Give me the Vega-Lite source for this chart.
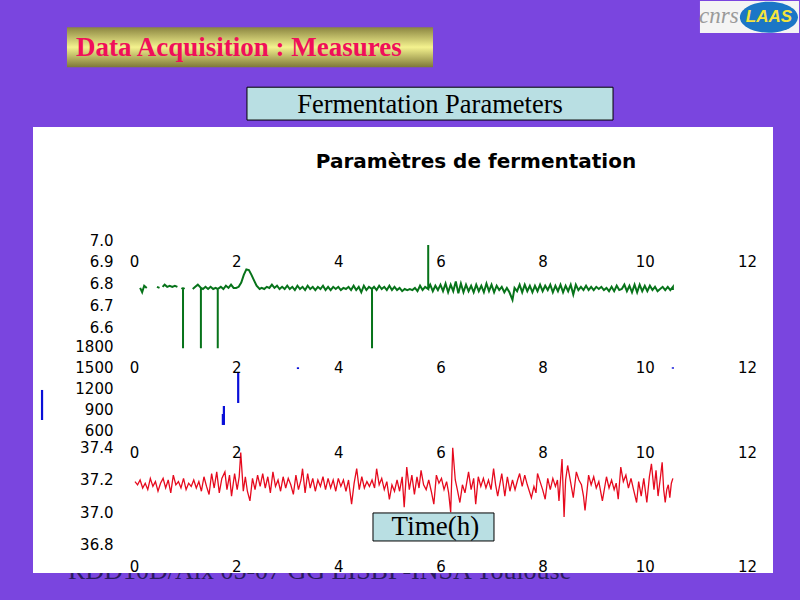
{"$schema":"https://vega.github.io/schema/vega-lite/v6.json","width":740,"height":446,"padding":{"left":33,"top":127,"right":27,"bottom":27},"autosize":{"type":"none"},"background":"#7a45df","view":{"stroke":null,"fill":null},
"title":{"text":"Paramètres de fermentation","font":"DejaVu Sans","fontWeight":"bold","fontSize":20,"color":"#000000","anchor":"middle","dx":73,"offset":-171},
"resolve":{"scale":{"y":"independent"},"axis":{"x":"independent","y":"independent"}},
"layer":[
{"data":{"values":[{"label":"RDD10D/Aix 05-07 GG LISBP-INSA Toulouse"}]},"mark":{"type":"text","align":"left","baseline":"alphabetic","font":"Liberation Serif","fontSize":26,"color":"#2a1a60","clip":false},"encoding":{"x":{"datum":-1.292,"type":"quantitative","scale":{"domain":[-1.977,12.51],"nice":false},"axis":null},"y":{"datum":36.585,"type":"quantitative","scale":{"domain":[36.622,39.393],"nice":false,"zero":false},"axis":null},"text":{"field":"label"}}},
{"data":{"values":[{"panel":"plot"}]},"mark":{"type":"rect","fill":"#ffffff"},"encoding":{"x":{"datum":-1.977,"type":"quantitative","scale":{"domain":[-1.977,12.51],"nice":false},"axis":null},"x2":{"datum":12.51},"y":{"datum":5.469,"type":"quantitative","scale":{"domain":[5.469,7.52],"nice":false,"zero":false},"axis":null},"y2":{"datum":7.52}}},
{"data":{"values":[{"h":0.12,"p":6.78},{"h":0.16,"p":6.76},{"h":0.2,"p":6.79},{"h":0.25,"p":6.78},{"h":0.27,"p":null},{"h":0.45,"p":6.785},{"h":0.5,"p":6.78},{"h":0.52,"p":null},{"h":0.56,"p":6.785},{"h":0.6,"p":6.795},{"h":0.65,"p":6.785},{"h":0.7,"p":6.79},{"h":0.75,"p":6.785},{"h":0.8,"p":6.79},{"h":0.85,"p":6.785},{"h":0.87,"p":null},{"h":0.93,"p":6.78},{"h":0.96,"p":6.775},{"h":0.96,"p":6.503},{"h":0.96,"p":6.775},{"h":0.99,"p":6.78},{"h":1.01,"p":null},{"h":1.15,"p":6.775},{"h":1.2,"p":6.785},{"h":1.25,"p":6.795},{"h":1.31,"p":6.78},{"h":1.31,"p":6.503},{"h":1.31,"p":6.78},{"h":1.35,"p":6.775},{"h":1.4,"p":6.785},{"h":1.45,"p":6.775},{"h":1.5,"p":6.785},{"h":1.55,"p":6.775},{"h":1.6,"p":6.78},{"h":1.64,"p":6.775},{"h":1.64,"p":6.503},{"h":1.64,"p":6.775},{"h":1.7,"p":6.785},{"h":1.75,"p":6.775},{"h":1.8,"p":6.79},{"h":1.85,"p":6.78},{"h":1.9,"p":6.795},{"h":1.95,"p":6.78},{"h":2.0,"p":6.78},{"h":2.05,"p":6.785},{"h":2.1,"p":6.805},{"h":2.15,"p":6.84},{"h":2.2,"p":6.865},{"h":2.25,"p":6.862},{"h":2.3,"p":6.84},{"h":2.35,"p":6.815},{"h":2.4,"p":6.79},{"h":2.46,"p":6.775},{"h":2.5,"p":6.78},{"h":2.55,"p":6.775},{"h":2.6,"p":6.785},{"h":2.65,"p":6.78},{"h":2.7,"p":6.795},{"h":2.75,"p":6.78},{"h":2.8,"p":6.79},{"h":2.85,"p":6.775},{"h":2.9,"p":6.785},{"h":2.95,"p":6.775},{"h":3.0,"p":6.79},{"h":3.05,"p":6.775},{"h":3.1,"p":6.785},{"h":3.15,"p":6.77},{"h":3.2,"p":6.79},{"h":3.25,"p":6.775},{"h":3.3,"p":6.785},{"h":3.35,"p":6.77},{"h":3.4,"p":6.79},{"h":3.45,"p":6.775},{"h":3.5,"p":6.785},{"h":3.55,"p":6.77},{"h":3.6,"p":6.785},{"h":3.65,"p":6.775},{"h":3.7,"p":6.79},{"h":3.75,"p":6.77},{"h":3.8,"p":6.785},{"h":3.85,"p":6.77},{"h":3.9,"p":6.785},{"h":3.95,"p":6.775},{"h":4.0,"p":6.785},{"h":4.05,"p":6.77},{"h":4.1,"p":6.78},{"h":4.15,"p":6.775},{"h":4.2,"p":6.785},{"h":4.25,"p":6.77},{"h":4.3,"p":6.79},{"h":4.35,"p":6.77},{"h":4.4,"p":6.785},{"h":4.45,"p":6.76},{"h":4.5,"p":6.79},{"h":4.55,"p":6.77},{"h":4.6,"p":6.785},{"h":4.66,"p":6.775},{"h":4.66,"p":6.503},{"h":4.66,"p":6.775},{"h":4.7,"p":6.785},{"h":4.75,"p":6.77},{"h":4.8,"p":6.79},{"h":4.85,"p":6.775},{"h":4.9,"p":6.785},{"h":4.95,"p":6.77},{"h":5.0,"p":6.79},{"h":5.05,"p":6.77},{"h":5.1,"p":6.785},{"h":5.15,"p":6.77},{"h":5.2,"p":6.78},{"h":5.25,"p":6.765},{"h":5.3,"p":6.775},{"h":5.35,"p":6.77},{"h":5.4,"p":6.775},{"h":5.45,"p":6.77},{"h":5.5,"p":6.78},{"h":5.55,"p":6.765},{"h":5.6,"p":6.79},{"h":5.65,"p":6.77},{"h":5.7,"p":6.785},{"h":5.76,"p":6.775},{"h":5.76,"p":6.977},{"h":5.76,"p":6.775},{"h":5.8,"p":6.795},{"h":5.85,"p":6.765},{"h":5.9,"p":6.79},{"h":5.95,"p":6.77},{"h":6.0,"p":6.795},{"h":6.05,"p":6.765},{"h":6.1,"p":6.8},{"h":6.15,"p":6.76},{"h":6.2,"p":6.795},{"h":6.25,"p":6.765},{"h":6.3,"p":6.81},{"h":6.35,"p":6.755},{"h":6.4,"p":6.8},{"h":6.45,"p":6.76},{"h":6.5,"p":6.795},{"h":6.55,"p":6.765},{"h":6.6,"p":6.79},{"h":6.65,"p":6.76},{"h":6.7,"p":6.795},{"h":6.75,"p":6.765},{"h":6.8,"p":6.79},{"h":6.85,"p":6.76},{"h":6.9,"p":6.8},{"h":6.95,"p":6.765},{"h":7.0,"p":6.795},{"h":7.05,"p":6.76},{"h":7.1,"p":6.79},{"h":7.15,"p":6.77},{"h":7.2,"p":6.785},{"h":7.25,"p":6.76},{"h":7.3,"p":6.78},{"h":7.35,"p":6.76},{"h":7.41,"p":6.725},{"h":7.45,"p":6.78},{"h":7.5,"p":6.765},{"h":7.55,"p":6.795},{"h":7.6,"p":6.76},{"h":7.65,"p":6.795},{"h":7.7,"p":6.765},{"h":7.75,"p":6.79},{"h":7.8,"p":6.76},{"h":7.85,"p":6.79},{"h":7.9,"p":6.765},{"h":7.95,"p":6.795},{"h":8.0,"p":6.765},{"h":8.05,"p":6.79},{"h":8.1,"p":6.77},{"h":8.15,"p":6.795},{"h":8.2,"p":6.76},{"h":8.25,"p":6.79},{"h":8.3,"p":6.765},{"h":8.35,"p":6.795},{"h":8.4,"p":6.76},{"h":8.45,"p":6.79},{"h":8.5,"p":6.765},{"h":8.55,"p":6.795},{"h":8.6,"p":6.75},{"h":8.65,"p":6.795},{"h":8.7,"p":6.77},{"h":8.75,"p":6.785},{"h":8.8,"p":6.77},{"h":8.85,"p":6.79},{"h":8.9,"p":6.77},{"h":8.95,"p":6.785},{"h":9.0,"p":6.77},{"h":9.05,"p":6.785},{"h":9.1,"p":6.775},{"h":9.15,"p":6.785},{"h":9.2,"p":6.77},{"h":9.25,"p":6.78},{"h":9.3,"p":6.765},{"h":9.35,"p":6.785},{"h":9.4,"p":6.765},{"h":9.45,"p":6.79},{"h":9.5,"p":6.77},{"h":9.55,"p":6.775},{"h":9.6,"p":6.795},{"h":9.65,"p":6.765},{"h":9.7,"p":6.79},{"h":9.75,"p":6.76},{"h":9.8,"p":6.795},{"h":9.85,"p":6.76},{"h":9.9,"p":6.795},{"h":9.95,"p":6.765},{"h":10.0,"p":6.79},{"h":10.05,"p":6.765},{"h":10.1,"p":6.79},{"h":10.15,"p":6.77},{"h":10.2,"p":6.785},{"h":10.25,"p":6.765},{"h":10.3,"p":6.775},{"h":10.35,"p":6.785},{"h":10.4,"p":6.77},{"h":10.45,"p":6.785},{"h":10.5,"p":6.77},{"h":10.55,"p":6.785},{"h":10.55,"p":6.77}]},"mark":{"type":"line","color":"#07731a","strokeWidth":2,"interpolate":"linear"},"encoding":{"order":null,"x":{"field":"h","type":"quantitative","scale":{"domain":[-1.977,12.51],"nice":false},"axis":{"title":null,"orient":"bottom","offset":-312,"values":[0,2,4,6,8,10,12],"format":"d","domain":false,"ticks":false,"grid":false,"labelPadding":0,"labelBaseline":"middle","labelFont":"DejaVu Sans","labelFontSize":15,"labelColor":"#000000","zindex":1}},"y":{"field":"p","type":"quantitative","scale":{"domain":[5.469,7.52],"nice":false,"zero":false},"axis":{"title":null,"orient":"left","offset":-80,"values":[6.6,6.7,6.8,6.9,7.0],"format":".1f","domain":false,"ticks":false,"grid":false,"labelPadding":0,"labelFont":"DejaVu Sans","labelFontSize":15,"labelColor":"#000000","zindex":1}}}},
{"data":{"values":[{"h":-1.8,"lo":757,"hi":1186},{"h":1.76,"lo":686,"hi":957},{"h":1.74,"lo":686,"hi":843},{"h":2.04,"lo":1000,"hi":1443},{"h":3.21,"lo":1485,"hi":1510},{"h":10.55,"lo":1490,"hi":1510}]},"mark":{"type":"rule","color":"#0a10d8","strokeWidth":2.2},"encoding":{"x":{"field":"h","type":"quantitative","scale":{"domain":[-1.977,12.51],"nice":false},"axis":{"title":null,"orient":"bottom","offset":-206,"values":[0,2,4,6,8,10,12],"format":"d","domain":false,"ticks":false,"grid":false,"labelPadding":0,"labelBaseline":"middle","labelFont":"DejaVu Sans","labelFontSize":15,"labelColor":"#000000","zindex":1}},"y":{"field":"lo","type":"quantitative","scale":{"domain":[-1429,4943],"nice":false,"zero":false},"axis":{"title":null,"orient":"left","offset":-80,"values":[600,900,1200,1500,1800],"format":"d","domain":false,"ticks":false,"grid":false,"labelPadding":0,"labelFont":"DejaVu Sans","labelFontSize":15,"labelColor":"#000000","zindex":1}},"y2":{"field":"hi"}}},
{"data":{"values":[{"h":0.02,"t":37.19},{"h":0.07,"t":37.17},{"h":0.12,"t":37.2},{"h":0.17,"t":37.15},{"h":0.22,"t":37.18},{"h":0.27,"t":37.14},{"h":0.32,"t":37.21},{"h":0.37,"t":37.16},{"h":0.42,"t":37.19},{"h":0.47,"t":37.13},{"h":0.52,"t":37.18},{"h":0.57,"t":37.21},{"h":0.62,"t":37.15},{"h":0.67,"t":37.2},{"h":0.72,"t":37.12},{"h":0.77,"t":37.23},{"h":0.82,"t":37.17},{"h":0.87,"t":37.19},{"h":0.92,"t":37.15},{"h":0.97,"t":37.21},{"h":1.02,"t":37.14},{"h":1.07,"t":37.18},{"h":1.12,"t":37.16},{"h":1.17,"t":37.2},{"h":1.22,"t":37.15},{"h":1.27,"t":37.19},{"h":1.32,"t":37.13},{"h":1.37,"t":37.22},{"h":1.42,"t":37.16},{"h":1.47,"t":37.11},{"h":1.52,"t":37.24},{"h":1.57,"t":37.15},{"h":1.62,"t":37.25},{"h":1.67,"t":37.12},{"h":1.72,"t":37.21},{"h":1.78,"t":37.25},{"h":1.82,"t":37.14},{"h":1.87,"t":37.23},{"h":1.91,"t":37.1},{"h":1.97,"t":37.24},{"h":2.02,"t":37.14},{"h":2.06,"t":37.22},{"h":2.09,"t":37.37},{"h":2.14,"t":37.13},{"h":2.18,"t":37.22},{"h":2.22,"t":37.13},{"h":2.27,"t":37.07},{"h":2.32,"t":37.21},{"h":2.37,"t":37.14},{"h":2.42,"t":37.23},{"h":2.47,"t":37.16},{"h":2.52,"t":37.24},{"h":2.57,"t":37.15},{"h":2.62,"t":37.22},{"h":2.67,"t":37.12},{"h":2.72,"t":37.25},{"h":2.77,"t":37.16},{"h":2.82,"t":37.2},{"h":2.87,"t":37.13},{"h":2.92,"t":37.22},{"h":2.97,"t":37.15},{"h":3.02,"t":37.21},{"h":3.07,"t":37.17},{"h":3.12,"t":37.11},{"h":3.17,"t":37.23},{"h":3.22,"t":37.14},{"h":3.27,"t":37.2},{"h":3.3,"t":37.27},{"h":3.35,"t":37.12},{"h":3.4,"t":37.24},{"h":3.45,"t":37.15},{"h":3.5,"t":37.21},{"h":3.55,"t":37.13},{"h":3.6,"t":37.2},{"h":3.65,"t":37.16},{"h":3.7,"t":37.22},{"h":3.75,"t":37.14},{"h":3.8,"t":37.21},{"h":3.85,"t":37.15},{"h":3.9,"t":37.2},{"h":3.95,"t":37.13},{"h":4.0,"t":37.21},{"h":4.05,"t":37.16},{"h":4.1,"t":37.2},{"h":4.15,"t":37.13},{"h":4.2,"t":37.2},{"h":4.26,"t":37.05},{"h":4.31,"t":37.18},{"h":4.36,"t":37.27},{"h":4.41,"t":37.14},{"h":4.46,"t":37.22},{"h":4.51,"t":37.15},{"h":4.56,"t":37.19},{"h":4.61,"t":37.16},{"h":4.66,"t":37.2},{"h":4.71,"t":37.15},{"h":4.75,"t":37.27},{"h":4.8,"t":37.17},{"h":4.85,"t":37.21},{"h":4.9,"t":37.14},{"h":4.95,"t":37.19},{"h":5.0,"t":37.08},{"h":5.05,"t":37.17},{"h":5.1,"t":37.13},{"h":5.15,"t":37.2},{"h":5.2,"t":37.13},{"h":5.25,"t":37.22},{"h":5.29,"t":37.03},{"h":5.34,"t":37.28},{"h":5.39,"t":37.14},{"h":5.44,"t":37.23},{"h":5.49,"t":37.11},{"h":5.54,"t":37.22},{"h":5.58,"t":37.15},{"h":5.62,"t":37.26},{"h":5.67,"t":37.17},{"h":5.72,"t":37.14},{"h":5.77,"t":37.2},{"h":5.82,"t":37.13},{"h":5.87,"t":37.05},{"h":5.92,"t":37.23},{"h":5.97,"t":37.18},{"h":6.02,"t":37.21},{"h":6.07,"t":37.14},{"h":6.12,"t":37.19},{"h":6.16,"t":37.12},{"h":6.2,"t":37.0},{"h":6.24,"t":37.4},{"h":6.29,"t":37.2},{"h":6.33,"t":37.14},{"h":6.38,"t":37.06},{"h":6.43,"t":37.17},{"h":6.48,"t":37.12},{"h":6.55,"t":37.25},{"h":6.6,"t":37.14},{"h":6.65,"t":37.21},{"h":6.69,"t":37.05},{"h":6.74,"t":37.22},{"h":6.79,"t":37.16},{"h":6.84,"t":37.21},{"h":6.89,"t":37.15},{"h":6.94,"t":37.2},{"h":6.99,"t":37.14},{"h":7.04,"t":37.27},{"h":7.08,"t":37.17},{"h":7.12,"t":37.1},{"h":7.2,"t":37.24},{"h":7.26,"t":37.1},{"h":7.31,"t":37.22},{"h":7.36,"t":37.13},{"h":7.41,"t":37.2},{"h":7.46,"t":37.14},{"h":7.51,"t":37.2},{"h":7.55,"t":37.24},{"h":7.6,"t":37.16},{"h":7.65,"t":37.23},{"h":7.7,"t":37.17},{"h":7.74,"t":37.13},{"h":7.78,"t":37.09},{"h":7.83,"t":37.16},{"h":7.87,"t":37.12},{"h":7.9,"t":37.24},{"h":7.95,"t":37.19},{"h":8.0,"t":37.14},{"h":8.05,"t":37.08},{"h":8.1,"t":37.21},{"h":8.15,"t":37.14},{"h":8.2,"t":37.21},{"h":8.25,"t":37.16},{"h":8.29,"t":37.2},{"h":8.32,"t":37.07},{"h":8.38,"t":37.33},{"h":8.42,"t":36.97},{"h":8.45,"t":37.2},{"h":8.49,"t":37.29},{"h":8.54,"t":37.2},{"h":8.6,"t":37.09},{"h":8.66,"t":37.25},{"h":8.71,"t":37.2},{"h":8.76,"t":37.17},{"h":8.8,"t":37.1},{"h":8.83,"t":37.01},{"h":8.9,"t":37.23},{"h":8.95,"t":37.17},{"h":9.0,"t":37.22},{"h":9.05,"t":37.15},{"h":9.1,"t":37.19},{"h":9.17,"t":37.07},{"h":9.25,"t":37.22},{"h":9.3,"t":37.15},{"h":9.35,"t":37.2},{"h":9.4,"t":37.14},{"h":9.44,"t":37.18},{"h":9.48,"t":37.08},{"h":9.53,"t":37.28},{"h":9.58,"t":37.19},{"h":9.63,"t":37.23},{"h":9.68,"t":37.15},{"h":9.73,"t":37.21},{"h":9.78,"t":37.14},{"h":9.84,"t":37.06},{"h":9.88,"t":37.19},{"h":9.93,"t":37.1},{"h":9.98,"t":37.21},{"h":10.04,"t":37.06},{"h":10.09,"t":37.22},{"h":10.13,"t":37.3},{"h":10.18,"t":37.14},{"h":10.22,"t":37.26},{"h":10.26,"t":37.1},{"h":10.3,"t":37.2},{"h":10.34,"t":37.31},{"h":10.37,"t":37.14},{"h":10.4,"t":37.06},{"h":10.43,"t":37.14},{"h":10.46,"t":37.17},{"h":10.49,"t":37.09},{"h":10.52,"t":37.18},{"h":10.55,"t":37.21}]},"mark":{"type":"line","color":"#e60a1e","strokeWidth":1.3,"interpolate":"linear"},"encoding":{"x":{"field":"h","type":"quantitative","scale":{"domain":[-1.977,12.51],"nice":false},"axis":{"title":null,"orient":"bottom","offset":-121,"values":[0,2,4,6,8,10,12],"format":"d","domain":false,"ticks":false,"grid":false,"labelPadding":0,"labelBaseline":"middle","labelFont":"DejaVu Sans","labelFontSize":15,"labelColor":"#000000","zindex":1}},"y":{"field":"t","type":"quantitative","scale":{"domain":[36.622,39.393],"nice":false,"zero":false},"axis":{"title":null,"orient":"left","offset":-80,"values":[36.8,37.0,37.2,37.4],"format":".1f","domain":false,"ticks":false,"grid":false,"labelPadding":0,"labelFont":"DejaVu Sans","labelFontSize":15,"labelColor":"#000000","zindex":1}}}},
{"data":{"values":[{"box":"time"}]},"mark":{"type":"rect","fill":"#b9dfe3","stroke":"#000000","strokeWidth":1},"encoding":{"x":{"datum":4.679,"type":"quantitative","scale":{"domain":[-1.977,12.51],"nice":false},"axis":{"title":null,"orient":"bottom","offset":-7,"values":[0,2,4,6,8,10,12],"format":"d","domain":false,"ticks":false,"grid":false,"labelPadding":0,"labelBaseline":"middle","labelFont":"DejaVu Sans","labelFontSize":15,"labelColor":"#000000","zindex":1}},"x2":{"datum":7.048},"y":{"datum":36.995,"type":"quantitative","scale":{"domain":[36.622,39.393],"nice":false,"zero":false},"axis":null},"y2":{"datum":36.821}}},
{"data":{"values":[{"label":"Time(h)"}]},"mark":{"type":"text","font":"Liberation Serif","fontSize":27,"color":"#000000","baseline":"middle","align":"center"},"encoding":{"x":{"datum":5.9,"type":"quantitative","scale":{"domain":[-1.977,12.51],"nice":false},"axis":null},"y":{"datum":36.908,"type":"quantitative","scale":{"domain":[36.622,39.393],"nice":false,"zero":false},"axis":null},"text":{"field":"label"}}},
{"data":{"values":[{"box":"header"}]},"mark":{"type":"rect","clip":false,"fill":{"gradient":"linear","x1":0,"y1":0,"x2":0,"y2":1,"stops":[{"offset":0,"color":"#8a8440"},{"offset":0.5,"color":"#f4f28e"},{"offset":1,"color":"#7e7838"}]}},"encoding":{"x":{"datum":-1.312,"type":"quantitative","scale":{"domain":[-1.977,12.51],"nice":false},"axis":null},"x2":{"datum":5.854},"y":{"datum":7.979,"type":"quantitative","scale":{"domain":[5.469,7.52],"nice":false,"zero":false},"axis":null},"y2":{"datum":7.795}}},
{"data":{"values":[{"label":"Data Acquisition  : Measures"}]},"mark":{"type":"text","font":"Liberation Serif","fontWeight":"bold","fontSize":27,"color":"#f00f5a","align":"left","baseline":"middle"},"encoding":{"x":{"datum":-1.135,"type":"quantitative","scale":{"domain":[-1.977,12.51],"nice":false},"axis":null},"y":{"datum":7.883,"type":"quantitative","scale":{"domain":[5.469,7.52],"nice":false,"zero":false},"axis":null},"text":{"field":"label"}}},
{"data":{"values":[{"box":"subtitle"}]},"mark":{"type":"rect","fill":"#b9dfe3","stroke":"#000000","strokeWidth":1},"encoding":{"x":{"datum":2.212,"type":"quantitative","scale":{"domain":[-1.977,12.51],"nice":false},"axis":null},"x2":{"datum":9.378},"y":{"datum":7.703,"type":"quantitative","scale":{"domain":[5.469,7.52],"nice":false,"zero":false},"axis":null},"y2":{"datum":7.552}}},
{"data":{"values":[{"label":"Fermentation Parameters"}]},"mark":{"type":"text","font":"Liberation Serif","fontSize":26.5,"color":"#000000","align":"center","baseline":"middle"},"encoding":{"x":{"datum":5.795,"type":"quantitative","scale":{"domain":[-1.977,12.51],"nice":false},"axis":null},"y":{"datum":7.621,"type":"quantitative","scale":{"domain":[5.469,7.52],"nice":false,"zero":false},"axis":null},"text":{"field":"label"}}},
{"data":{"values":[{"box":"logo"}]},"mark":{"type":"rect","fill":"#f4f4f4"},"encoding":{"x":{"datum":11.08,"type":"quantitative","scale":{"domain":[-1.977,12.51],"nice":false},"axis":null},"x2":{"datum":13.02},"y":{"datum":8.1,"type":"quantitative","scale":{"domain":[5.469,7.52],"nice":false,"zero":false},"axis":null},"y2":{"datum":7.952}}},
{"data":{"values":[{"label":"cnrs"}]},"mark":{"type":"text","font":"Liberation Serif","fontStyle":"italic","fontSize":23,"color":"#9a9a9a","align":"center","baseline":"middle"},"encoding":{"x":{"datum":11.45,"type":"quantitative","scale":{"domain":[-1.977,12.51],"nice":false},"axis":null},"y":{"datum":8.03,"type":"quantitative","scale":{"domain":[5.469,7.52],"nice":false,"zero":false},"axis":null},"text":{"field":"label"}}},
{"data":{"values":[{"logo":"ellipse"}]},"mark":{"type":"point","filled":true,"opacity":1,"color":"#1b76c6","shape":"M-1,0A1,.534,0,1,1,1,0A1,.534,0,1,1,-1,0Z","size":3364},"encoding":{"x":{"datum":12.43,"type":"quantitative","scale":{"domain":[-1.977,12.51],"nice":false},"axis":null},"y":{"datum":8.025,"type":"quantitative","scale":{"domain":[5.469,7.52],"nice":false,"zero":false},"axis":null}}},
{"data":{"values":[{"label":"LAAS"}]},"mark":{"type":"text","font":"Liberation Sans","fontWeight":"bold","fontStyle":"italic","fontSize":17,"color":"#f4e43c","align":"center","baseline":"middle"},"encoding":{"x":{"datum":12.43,"type":"quantitative","scale":{"domain":[-1.977,12.51],"nice":false},"axis":null},"y":{"datum":8.025,"type":"quantitative","scale":{"domain":[5.469,7.52],"nice":false,"zero":false},"axis":null},"text":{"field":"label"}}}
]}
